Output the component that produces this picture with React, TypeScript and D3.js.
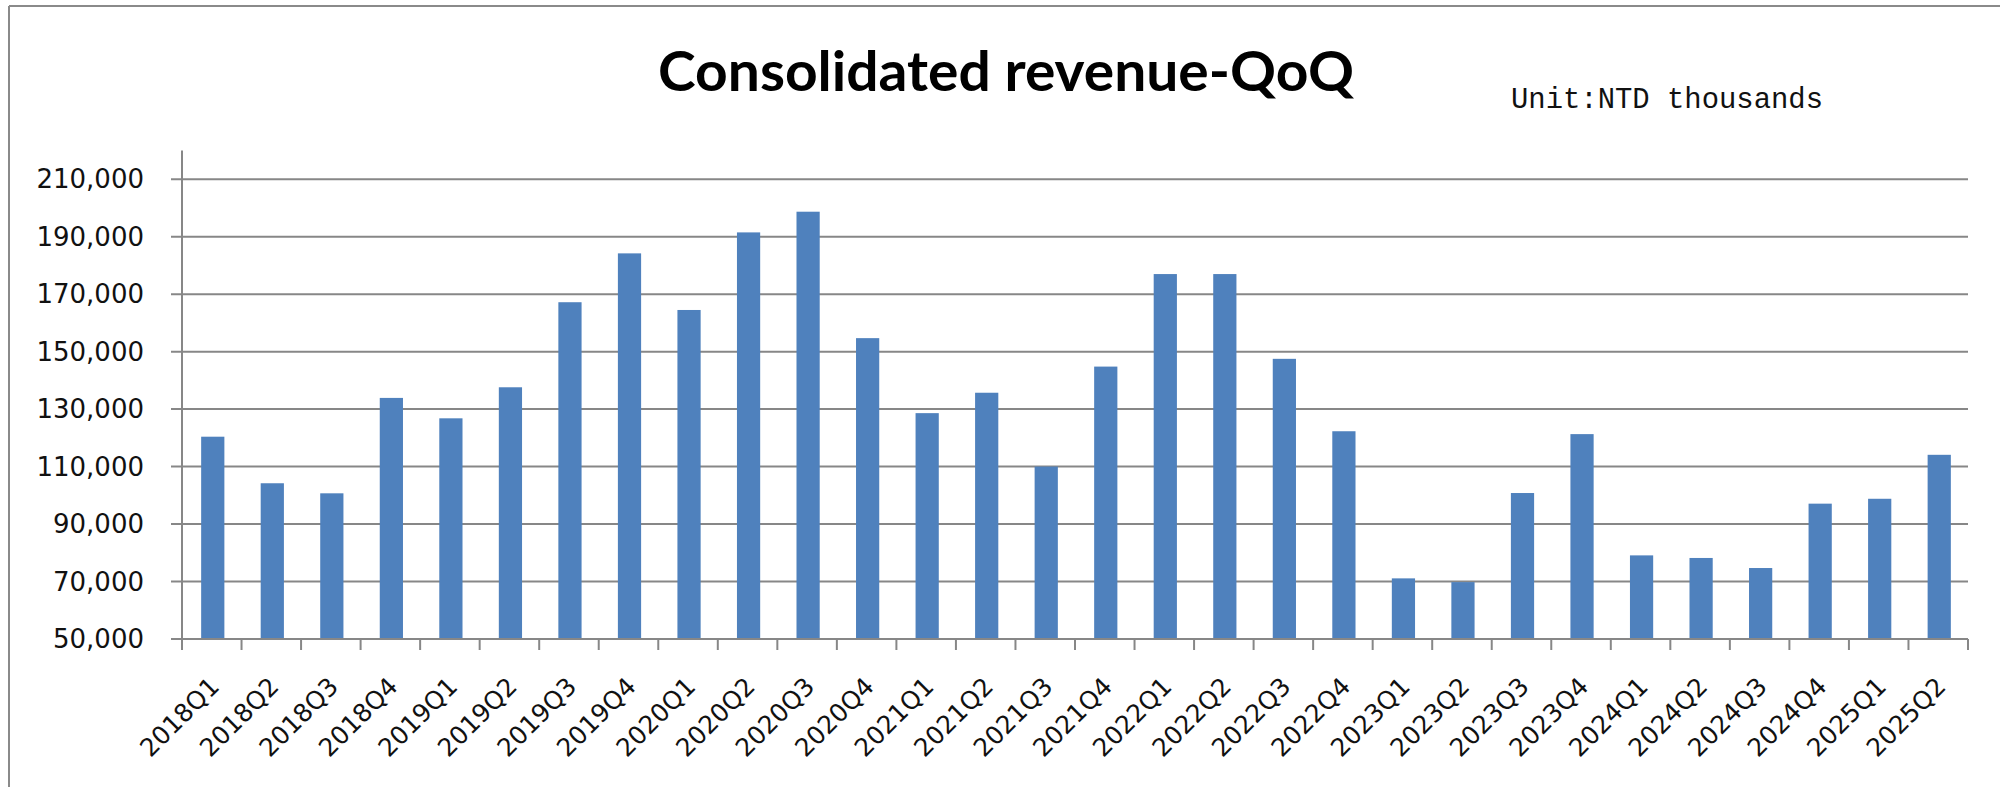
import React from "react";
import * as d3 from "d3";

const categories: string[] = [
  "2018Q1", "2018Q2", "2018Q3", "2018Q4",
  "2019Q1", "2019Q2", "2019Q3", "2019Q4",
  "2020Q1", "2020Q2", "2020Q3", "2020Q4",
  "2021Q1", "2021Q2", "2021Q3", "2021Q4",
  "2022Q1", "2022Q2", "2022Q3", "2022Q4",
  "2023Q1", "2023Q2", "2023Q3", "2023Q4",
  "2024Q1", "2024Q2", "2024Q3", "2024Q4",
  "2025Q1", "2025Q2",
];

const revenue: number[] = [
  120400, 104200, 100700, 133900,
  126800, 137600, 167200, 184200,
  164500, 191500, 198700, 154700,
  128600, 135700, 110000, 144800,
  177000, 177000, 147500, 122300,
  71100, 69800, 100800, 121300,
  79100, 78200, 74700, 97100,
  98800, 114100,
];

const yTicks: number[] = [50000, 70000, 90000, 110000, 130000, 150000, 170000, 190000, 210000];
const yDomain: [number, number] = [50000, 220000];

const titleText = "Consolidated revenue-QoQ";
const unitText = "Unit:NTD thousands";

const W = 2000;
const H = 787;
const plotLeft = 182;
const plotRight = 1968;
const plotBottom = 639;
const plotTop = 150.5;

export default function App() {
  const x = d3
    .scaleBand<string>()
    .domain(categories)
    .range([plotLeft, plotRight])
    .paddingInner(0.61)
    .paddingOuter(0.305);
  const step = x.step();
  const y = d3.scaleLinear().domain(yDomain).range([plotBottom, plotTop]);
  const fmt = d3.format(",");
  const gridColor = "#878787";
  const boundaries = d3.range(categories.length + 1).map((i) => plotLeft + i * step);

  return (
    <div style={{ position: "absolute", left: 0, top: 0, width: W, height: H, background: "#fff" }}>
      <svg width={W} height={H} viewBox={`0 0 ${W} ${H}`} style={{ display: "block" }}>
        <rect x={0} y={0} width={W} height={H} fill="#ffffff" />
        {/* outer frame */}
        <line x1={9} x2={W} y1={6} y2={6} stroke="#8a8a8a" strokeWidth={2} />
        <line x1={9} x2={9} y1={6} y2={H} stroke="#8a8a8a" strokeWidth={2} />

        {/* title */}
        <text
          x={658}
          y={91}
          fontFamily="Lato, 'Open Sans', sans-serif"
          fontWeight={700}
          fontSize={55}
          fill="#000"
          textLength={696}
          lengthAdjust="spacingAndGlyphs"
        >
          {titleText}
        </text>
        <text
          x={1511}
          y={108}
          fontFamily="'Liberation Mono', 'DejaVu Sans Mono', monospace"
          fontSize={29}
          fill="#111"
          textLength={312}
          lengthAdjust="spacingAndGlyphs"
        >
          {unitText}
        </text>

        {/* gridlines */}
        {yTicks.map((t) => (
          <line
            key={"g" + t}
            x1={plotLeft - 11}
            x2={plotRight}
            y1={y(t)}
            y2={y(t)}
            stroke={gridColor}
            strokeWidth={2}
          />
        ))}

        {/* bars */}
        {categories.map((c, i) => (
          <rect
            key={c}
            x={(x(c) as number) + 1}
            y={y(revenue[i])}
            width={x.bandwidth()}
            height={plotBottom - y(revenue[i])}
            fill="#4F81BD"
          />
        ))}

        {/* y axis */}
        <line x1={plotLeft} x2={plotLeft} y1={plotTop} y2={plotBottom + 11} stroke={gridColor} strokeWidth={2} />
        {/* x axis */}
        <line x1={plotLeft - 11} x2={plotRight} y1={plotBottom} y2={plotBottom} stroke={gridColor} strokeWidth={2} />
        {boundaries.map((bx, i) => (
          <line key={"t" + i} x1={bx} x2={bx} y1={plotBottom} y2={plotBottom + 11} stroke={gridColor} strokeWidth={2} />
        ))}

        {/* y labels */}
        {yTicks.map((t) => (
          <text
            key={"yl" + t}
            x={144}
            y={y(t)}
            textAnchor="end"
            dominantBaseline="central"
            fontFamily="'DejaVu Sans', Verdana, sans-serif"
            fontSize={26}
            fill="#111"
          >
            {fmt(t)}
          </text>
        ))}

        {/* x labels */}
        {categories.map((c) => {
          const cx = (x(c) as number) + x.bandwidth() / 2 + 9;
          const cy = 688;
          return (
            <text
              key={"xl" + c}
              x={cx}
              y={cy}
              textAnchor="end"
              transform={`rotate(-45 ${cx} ${cy})`}
              fontFamily="'DejaVu Sans', Verdana, sans-serif"
              fontSize={25}
              fill="#111"
            >
              {c}
            </text>
          );
        })}
      </svg>
    </div>
  );
}
